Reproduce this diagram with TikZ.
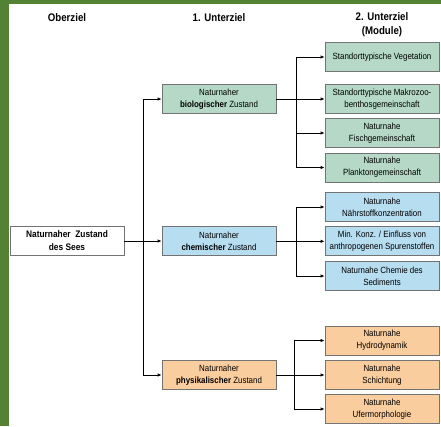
\documentclass[tikz,border=0pt]{standalone}
\usepackage{fontspec}
\setmainfont{Liberation Sans}[FakeStretch=0.88]
\usetikzlibrary{arrows.meta}
\definecolor{rahmen}{RGB}{84,130,53}
\definecolor{biogruen}{RGB}{181,217,198}
\definecolor{chemblau}{RGB}{183,221,240}
\definecolor{physorange}{RGB}{250,205,158}
\tikzset{
ziel/.style={draw=black!55,line width=0.8pt,minimum width=114pt,minimum height=29pt,inner sep=0pt,align=center,font=\fontsize{9}{12}\selectfont},
kopf/.style={font=\fontsize{11}{14}\selectfont\bfseries,align=center},
pfeil/.style={-{Latex[length=4pt,width=3.5pt]},line width=1pt}
}
\begin{document}
\begin{tikzpicture}[x=1pt,y=-1pt]
\useasboundingbox (0,0) rectangle (441,426);
\fill[white] (0,0) rectangle (441,426);
\fill[rahmen] (0,0) rectangle (8.5,426);
\fill[rahmen] (0,0) rectangle (441,3.5);
\node[kopf] (h0) at (67,18) {Oberziel};
\node[kopf] (h1) at (219,18) {1. Unterziel};
\node[kopf] (h2) at (382,25) {2. Unterziel\\(Module)};
\node[ziel,fill=white,font=\fontsize{9.5}{13}\selectfont\bfseries] (ober) at (67,241) {Naturnaher~~Zustand\\des Sees};
\node[ziel,fill=biogruen] (bio) at (219,99) {Naturnaher\\\textbf{biologischer} Zustand};
\node[ziel,fill=chemblau] (chem) at (219,241) {Naturnaher\\\textbf{chemischer} Zustand};
\node[ziel,fill=physorange] (phys) at (219,375) {Naturnaher\\\textbf{physikalischer} Zustand};
\node[ziel,fill=biogruen] (veg) at (382,57) {Standorttypische Vegetation};
\node[ziel,fill=biogruen] (makro) at (382,99) {Standorttypische Makrozoo-\\benthosgemeinschaft};
\node[ziel,fill=biogruen] (fisch) at (382,133) {Naturnahe\\Fischgemeinschaft};
\node[ziel,fill=biogruen] (plankton) at (382,167.5) {Naturnahe\\Planktongemeinschaft};
\node[ziel,fill=chemblau] (naehr) at (382,207) {Naturnahe\\Nährstoffkonzentration};
\node[ziel,fill=chemblau] (spuren) at (382,241.3) {Min. Konz. / Einfluss von\\anthropogenen Spurenstoffen};
\node[ziel,fill=chemblau] (sedi) at (382,276) {Naturnahe Chemie des\\Sediments};
\node[ziel,fill=physorange] (hydro) at (382,340.5) {Naturnahe\\Hydrodynamik};
\node[ziel,fill=physorange] (schicht) at (382,375) {Naturnahe\\Schichtung};
\node[ziel,fill=physorange] (ufer) at (382,409) {Naturnahe\\Ufermorphologie};
\draw[pfeil] (ober) -- (chem);
\draw[pfeil] (ober.east) -- ++(19,0) |- (bio);
\draw[pfeil] (ober.east) -- ++(19,0) |- (phys);
\draw[line width=1pt] (bio.east) -- ++(20,0) coordinate (bk);
\foreach \m in {veg,makro,fisch,plankton}
\draw[pfeil] (bk) |- (\m);
\draw[line width=1pt] (chem.east) -- ++(20,0) coordinate (ck);
\foreach \m in {naehr,spuren,sedi}
\draw[pfeil] (ck) |- (\m);
\draw[line width=1pt] (phys.east) -- ++(18,0) coordinate (pk);
\foreach \m in {hydro,schicht,ufer}
\draw[pfeil] (pk) |- (\m);
\end{tikzpicture}
\end{document}
